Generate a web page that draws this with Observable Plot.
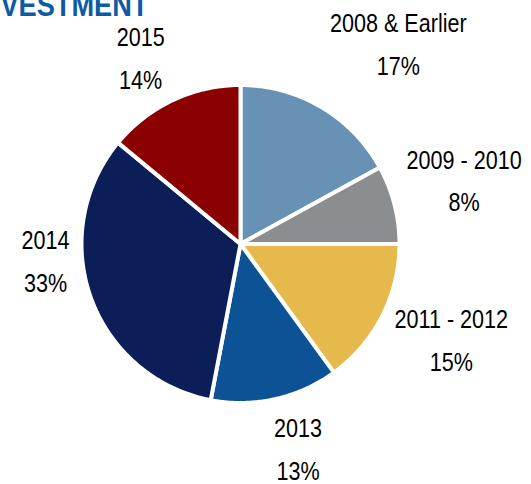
<!DOCTYPE html>
<html>
<head>
<meta charset="utf-8">
<script src="https://cdn.jsdelivr.net/npm/d3@7"></script>
<script src="https://cdn.jsdelivr.net/npm/@observablehq/plot@0.6"></script>
<style>
  html, body { margin: 0; padding: 0; background: #fff; overflow: hidden; }
  #chart { width: 531px; height: 484px; }
</style>
</head>
<body>
<div id="chart"></div>
<script>
// ---- data ----
const titleText = "VESTMENT";
const categories = ["2008 & Earlier", "2009 - 2010", "2011 - 2012", "2013", "2014", "2015"];
const shares = [17, 8, 15, 13, 33, 14];
const percentLabels = ["17%", "8%", "15%", "13%", "33%", "14%"];
const sliceColors = ["#6792b5", "#8b8e91", "#e6b94d", "#0b5395", "#0b1e57", "#8b0000"];

// ---- layout ----
const W = 531, H = 484;
const cx = 240, cy = 243.5, r = 159;
const labelRadius = 204;
const narrow = 0.83;
const titleWidth = 148, titleBaseline = 15;
// label nudges (px) from radial anchor
const labelNudgeX = [54, 26, 29, 13, -3, -13];
const labelNudgeY = [-29, -17, -1, 2, -56, -6];

const pie = d3.pie().sort(null).value(d => d)(shares);

const points = [];
pie.forEach((p, i) => {
  const cat = categories[i];
  points.push({cat, x: cx, y: cy});
  const n = Math.max(8, Math.ceil((p.endAngle - p.startAngle) / 0.01));
  for (let k = 0; k <= n; k++) {
    const a = p.startAngle + (p.endAngle - p.startAngle) * k / n;
    points.push({cat, x: cx + r * Math.sin(a), y: cy - r * Math.cos(a)});
  }
});

const labels = pie.map((p, i) => {
  const a = (p.startAngle + p.endAngle) / 2;
  return {
    text: categories[i] + "\n" + percentLabels[i],
    x: cx + labelRadius * Math.sin(a) + labelNudgeX[i],
    y: cy - labelRadius * Math.cos(a) + labelNudgeY[i]
  };
});

const chart = Plot.plot({
  width: W,
  height: H,
  margin: 0,
  x: {domain: [0, W], range: [0, W], axis: null},
  y: {domain: [0, H], range: [0, H], axis: null},
  color: {domain: categories, range: sliceColors},
  style: {background: "#fff"},
  marks: [
    Plot.line(points, {
      x: "x", y: "y", z: "cat", fill: "cat",
      stroke: "white", strokeWidth: 4, curve: "linear-closed"
    }),
    Plot.text(labels, {
      x: "x", y: "y", text: "text",
      fontFamily: "Liberation Sans, Arial, sans-serif", fontSize: 26, fill: "#000",
      lineHeight: 1.65, textAnchor: "middle", lineAnchor: "middle"
    }),
    Plot.text([titleText], {
      x: () => 0, y: () => titleBaseline, text: d => d,
      fontFamily: "Liberation Sans, Arial, sans-serif", fontWeight: "bold", fontSize: 31,
      fill: "#0b5ca5", textAnchor: "start", lineAnchor: "middle"
    })
  ]
});
document.getElementById("chart").appendChild(chart);

// condense the Arial-like text horizontally (Arial Narrow look)
d3.select(chart).selectAll("text").each(function() {
  const el = d3.select(this);
  if (this.textContent === titleText) {
    el.attr("dy", null).attr("x", 0).attr("y", 0);
    const w = this.getComputedTextLength();
    el.attr("transform", `translate(0,${titleBaseline}) scale(${titleWidth / w},1)`);
    return;
  }
  const x = +(el.attr("x") || 0), y = +(el.attr("y") || 0);
  const t = el.attr("transform") || "";
  el.attr("transform", `${t} translate(${x},${y}) scale(${narrow},1) translate(${-x},${-y})`);
});
</script>
</body>
</html>
